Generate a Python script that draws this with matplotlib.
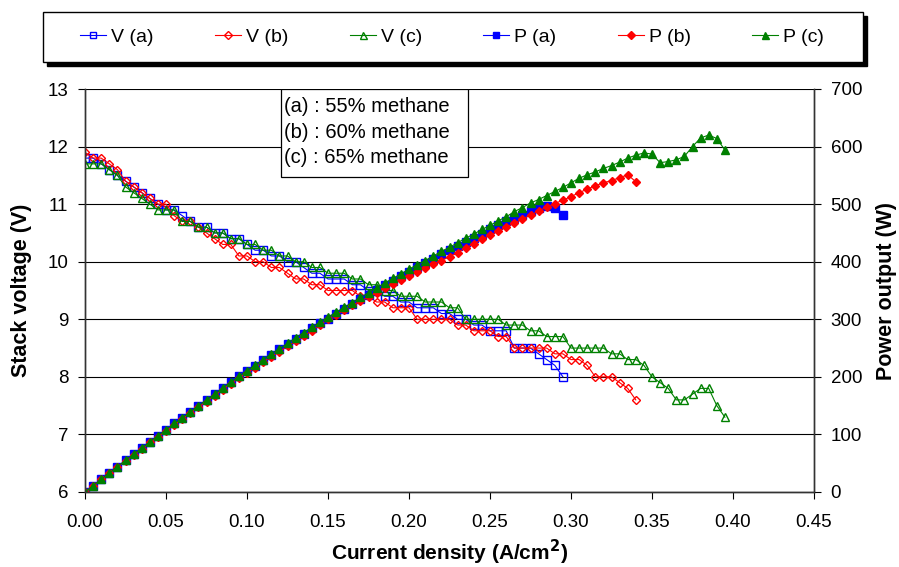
import matplotlib
matplotlib.use("Agg")
import matplotlib.pyplot as plt
from matplotlib.patches import Rectangle

plt.rcParams['font.family'] = ['Liberation Sans', 'DejaVu Sans']

#Current density (A/cm2), shared by all series
current = [0.000, 0.005, 0.010, 0.015, 0.020, 0.025, 0.030, 0.035, 0.040, 0.045,
           0.050, 0.055, 0.060, 0.065, 0.070, 0.075, 0.080, 0.085, 0.090, 0.095,
           0.100, 0.105, 0.110, 0.115, 0.120, 0.125, 0.130, 0.135, 0.140, 0.145,
           0.150, 0.155, 0.160, 0.165, 0.170, 0.175, 0.180, 0.185, 0.190, 0.195,
           0.200, 0.205, 0.210, 0.215, 0.220, 0.225, 0.230, 0.235, 0.240, 0.245,
           0.250, 0.255, 0.260, 0.265, 0.270, 0.275, 0.280, 0.285, 0.290, 0.295,
           0.300, 0.305, 0.310, 0.315, 0.320, 0.325, 0.330, 0.335, 0.340, 0.345,
           0.350, 0.355, 0.360, 0.365, 0.370, 0.375, 0.380, 0.385, 0.390, 0.395]

#Stack voltage (V)
volt_a = [11.8, 11.8, 11.7, 11.6, 11.5, 11.4, 11.3, 11.2, 11.1, 11.0,
          10.9, 10.9, 10.8, 10.7, 10.6, 10.6, 10.5, 10.5, 10.4, 10.4,
          10.3, 10.2, 10.2, 10.1, 10.1, 10.0, 10.0, 9.9, 9.8, 9.8,
          9.7, 9.7, 9.7, 9.6, 9.6, 9.5, 9.5, 9.4, 9.4, 9.3,
          9.3, 9.2, 9.2, 9.2, 9.1, 9.1, 9.0, 9.0, 8.9, 8.9,
          8.8, 8.8, 8.8, 8.5, 8.5, 8.5, 8.4, 8.3, 8.2, 8.0]
volt_b = [11.9, 11.8, 11.8, 11.7, 11.6, 11.4, 11.3, 11.2, 11.1, 11.0,
          11.0, 10.8, 10.7, 10.7, 10.6, 10.5, 10.4, 10.3, 10.3, 10.1,
          10.1, 10.0, 10.0, 9.9, 9.9, 9.8, 9.7, 9.7, 9.6, 9.6,
          9.5, 9.5, 9.5, 9.5, 9.4, 9.4, 9.3, 9.3, 9.2, 9.2,
          9.2, 9.0, 9.0, 9.0, 9.0, 9.0, 8.9, 8.9, 8.8, 8.8,
          8.8, 8.7, 8.7, 8.5, 8.5, 8.5, 8.5, 8.5, 8.4, 8.4,
          8.3, 8.3, 8.2, 8.0, 8.0, 8.0, 7.9, 7.8, 7.6]
volt_c = [11.7, 11.7, 11.7, 11.6, 11.5, 11.3, 11.2, 11.1, 11.0, 10.9,
          10.9, 10.9, 10.7, 10.7, 10.6, 10.6, 10.5, 10.5, 10.4, 10.4,
          10.3, 10.3, 10.2, 10.2, 10.1, 10.1, 10.0, 10.0, 9.9, 9.9,
          9.8, 9.8, 9.8, 9.7, 9.7, 9.6, 9.6, 9.5, 9.5, 9.4,
          9.4, 9.4, 9.3, 9.3, 9.3, 9.2, 9.2, 9.0, 9.0, 9.0,
          9.0, 9.0, 8.9, 8.9, 8.9, 8.8, 8.8, 8.7, 8.7, 8.7,
          8.5, 8.5, 8.5, 8.5, 8.5, 8.4, 8.4, 8.3, 8.3, 8.2,
          8.0, 7.9, 7.8, 7.6, 7.6, 7.7, 7.8, 7.8, 7.5, 7.3]

#Power output (W)
power_a = [0, 11, 22, 33, 44, 55, 66, 77, 87, 98,
           108, 119, 129, 139, 150, 160, 170, 180, 191, 201,
           210, 219, 229, 238, 248, 257, 266, 275, 284, 293,
           301, 310, 318, 327, 335, 343, 351, 359, 367, 375,
           383, 390, 398, 405, 413, 420, 428, 435, 442, 449,
           456, 463, 470, 476, 482, 488, 493, 496, 493, 481]
power_b = [0, 11, 22, 33, 44, 54, 65, 75, 86, 96,
           106, 116, 127, 137, 147, 157, 167, 178, 188, 198,
           207, 216, 226, 235, 244, 253, 262, 271, 280, 290,
           300, 308, 316, 324, 331, 339, 346, 354, 361, 368,
           375, 382, 389, 396, 402, 409, 416, 424, 431, 439,
           446, 453, 460, 467, 474, 481, 488, 495, 501, 507,
           513, 520, 526, 532, 537, 541, 546, 551, 539]
power_c = [0, 11, 22, 33, 44, 55, 66, 76, 87, 98,
           108, 119, 129, 139, 150, 160, 170, 181, 191, 201,
           211, 220, 230, 240, 249, 258, 268, 277, 286, 295,
           304, 312, 321, 329, 338, 346, 355, 363, 371, 379,
           387, 395, 402, 410, 418, 425, 433, 441, 448, 456,
           463, 471, 478, 487, 494, 502, 508, 515, 522, 529,
           537, 545, 551, 556, 562, 567, 573, 580, 585, 589,
           587, 572, 574, 577, 583, 600, 615, 620, 614, 594]

labels_v = ["V (a)", "V (b)", "V (c)"]
labels_p = ["P (a)", "P (b)", "P (c)"]
notes = ["(a) : 55% methane", "(b) : 60% methane", "(c) : 65% methane"]
colors = ["#0000FF", "#FF0000", "#008000"]
markers = ["s", "D", "^"]
msizes = [5.2, 4.4, 5.6]

W, H = 899, 567
fig = plt.figure(figsize=(W/100, H/100), dpi=100)
ax1 = fig.add_axes([85/W, 75/H, 729/W, 403/H])
ax2 = ax1.twinx()

volts = [volt_a, volt_b, volt_c]
powers = [power_a, power_b, power_c]
handles = []
for i in range(3):
    n = len(volts[i])
    h, = ax1.plot(current[:n], volts[i], color=colors[i], lw=0.8, marker=markers[i],
                  ms=msizes[i], mfc='none', mec=colors[i], mew=1.0, label=labels_v[i])
    handles.append(h)
for i in range(3):
    n = len(powers[i])
    h, = ax2.plot(current[:n], powers[i], color=colors[i], lw=0.8, marker=markers[i],
                  ms=msizes[i], mfc=colors[i], mec=colors[i], label=labels_p[i])
    handles.append(h)

#Axes limits and ticks
ax1.set_xlim(0, 0.45)
ax1.set_ylim(6, 13)
ax2.set_ylim(0, 700)
ax1.set_xticks([0.00, 0.05, 0.10, 0.15, 0.20, 0.25, 0.30, 0.35, 0.40, 0.45])
ax1.set_xticklabels(["%.2f" % v for v in ax1.get_xticks()])
ax1.set_yticks(range(6, 14))
ax2.set_yticks(range(0, 701, 100))
ax1.yaxis.grid(True, color='black', lw=0.8)
ax1.set_axisbelow(True)

for ax in (ax1, ax2):
    ax.tick_params(labelsize=13.5, direction='out', length=5, width=0.8, colors='black')
    ax.spines['top'].set_visible(False)
    for s in ('left', 'right', 'bottom'):
        ax.spines[s].set_linewidth(1.0)
        ax.spines[s].set_color('#333333')
ax1.tick_params(axis='y', pad=7)
ax2.tick_params(axis='y', pad=7)
ax1.tick_params(axis='x', pad=11)

ax1.set_xlabel("Current density (A/cm$^\\mathbf{2}$)", fontsize=15, fontweight='bold', labelpad=5)
ax1.set_ylabel("Stack voltage (V)", fontsize=15.5, fontweight='bold', labelpad=11)
ax2.set_ylabel("Power output (W)", fontsize=15.5, fontweight='bold', labelpad=10)

#Methane content note box
ax2.add_patch(Rectangle((0.2689, 0.7816), 0.2565, 0.2184, transform=ax1.transAxes,
                        facecolor='white', edgecolor='black', lw=0.9, zorder=5))
for k, t in enumerate(notes):
    ax2.text(0.2735, 0.9555 - k * 0.0625, t, transform=ax1.transAxes, fontsize=14.5,
             va='center', ha='left', zorder=6)

#Top legend: frame with solid black drop shadow, entries without frame
fig.patches.append(Rectangle((47/W, 501/H), 820/W, 50/H, transform=fig.transFigure,
                             facecolor='black', edgecolor='black', zorder=1))
fig.patches.append(Rectangle((43/W, 505/H), 820/W, 50/H, transform=fig.transFigure,
                             facecolor='white', edgecolor='black', lw=1.0, zorder=2))
leg = fig.legend(handles=handles, loc='center', ncol=6, frameon=False,
                 bbox_to_anchor=(452/W, 530/H), fontsize=14, handlelength=1.35,
                 handletextpad=0.25, columnspacing=3.15, markerscale=0.9)
leg.set_zorder(3)

fig.savefig("out.png", dpi=100)
